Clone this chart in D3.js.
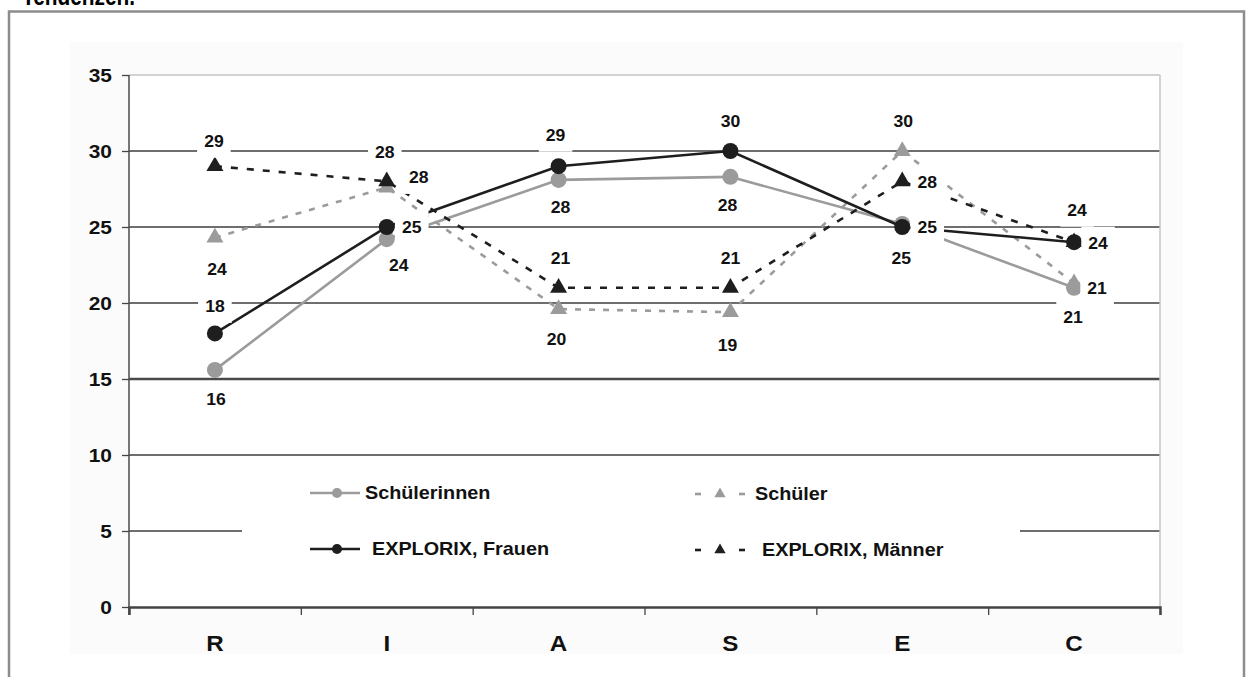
<!DOCTYPE html>
<html>
<head>
<meta charset="utf-8">
<script src="https://cdn.jsdelivr.net/npm/d3@7"></script>
<style>
  html, body { margin: 0; padding: 0; background: #fff; }
  svg { display: block; font-family: "Liberation Sans", Arial, sans-serif; }
</style>
</head>
<body>
<svg id="chart" width="1247" height="677"></svg>
<script>
// RIASEC interest profiles: pupils vs. EXPLORIX norm groups
const categories = ["R", "I", "A", "S", "E", "C"];
const yTicks = [0, 5, 10, 15, 20, 25, 30, 35];

const schuelerinnen   = [15.6, 24.2, 28.1, 28.3, 25.2, 21.0];
const schueler        = [24.3, 27.6, 19.6, 19.4, 30.0, 21.3];
const explorixFrauen  = [18, 25, 29, 30, 25, 24];
const explorixMaenner = [29, 28, 21, 21, 28, 24];

const seriesNames = ["Schülerinnen", "Schüler", "EXPLORIX, Frauen", "EXPLORIX, Männer"];

// label placement (offset of the label centre from its marker)
const labelOffsets = {
  "Schülerinnen":     [[1, 29], [12, 26], [2, 27], [-3, 28], [-1, 34], [-1, 29]],
  "Schüler":          [[2, 32], [-2, -35], [-2, 30], [-3, 33], [1, -30], [23, 5]],
  "EXPLORIX, Frauen": [[0, -27], [25, 0], [-3, -31], [0, -30], [25, 0], [24, 1]],
  "EXPLORIX, Männer": [[-1, -25], [32, -4], [2, -30], [0, -30], [25, 1], [3, -32]]
};

const GREY = "#9b9b9b", BLACK = "#1e1e1e", SX = 1.1;

const series = [
  { name: seriesNames[1], values: schueler,        color: GREY,  dash: "6,8", marker: "triangle" },
  { name: seriesNames[0], values: schuelerinnen,   color: GREY,  dash: null,  marker: "circle" },
  { name: seriesNames[3], values: explorixMaenner, color: BLACK, dash: "7,9", marker: "triangle" },
  { name: seriesNames[2], values: explorixFrauen,  color: BLACK, dash: null,  marker: "circle" }
];

const svg = d3.select("#chart");
const plot = { left: 129, right: 1160, top: 75, bottom: 607 };

// stretched bold text helper
function label(parent, x, y, str, size, anchor, fill) {
  return parent.append("text")
    .attr("transform", `translate(${x},${y}) scale(${SX},1)`)
    .attr("text-anchor", anchor)
    .attr("dy", "0.36em")
    .attr("font-size", size)
    .attr("font-weight", "bold")
    .attr("fill", fill || "#111")
    .text(str);
}

// closing words of the paragraph above the figure
svg.append("text").attr("x", 22).attr("y", 5)
  .attr("font-size", 25).attr("font-weight", "bold").attr("fill", "#000")
  .attr("textLength", 113).attr("lengthAdjust", "spacingAndGlyphs")
  .text("Tendenzen.");

// outer frame and chart area
svg.append("rect").attr("x", 9).attr("y", 11.5).attr("width", 1235).attr("height", 700)
  .attr("fill", "#fff").attr("stroke", "#8c8c8c").attr("stroke-width", 2.5);
svg.append("rect").attr("x", 70).attr("y", 42).attr("width", 1113).attr("height", 612)
  .attr("fill", "#fbfbfb");
svg.append("rect").attr("x", plot.left).attr("y", plot.top)
  .attr("width", plot.right - plot.left).attr("height", plot.bottom - plot.top)
  .attr("fill", "#fff");

const x = d3.scaleBand().domain(categories).range([plot.left, plot.right]);
const y = d3.scaleLinear().domain([0, 35]).range([plot.bottom, plot.top]);
const cx = c => x(c) + x.bandwidth() / 2;

// gridlines
svg.append("g").selectAll("line").data(yTicks.filter(t => t > 0)).join("line")
  .attr("x1", plot.left).attr("x2", plot.right)
  .attr("y1", d => y(d)).attr("y2", d => y(d))
  .attr("stroke", d => d === 35 ? "#c4c4c4" : (d === 15 ? "#4a4a4a" : "#3e3e3e"))
  .attr("stroke-width", d => d === 15 ? 2.4 : 1.4);

// right border of the plot area
svg.append("line").attr("x1", plot.right).attr("x2", plot.right)
  .attr("y1", plot.top).attr("y2", plot.bottom + 8)
  .attr("stroke", "#c4c4c4").attr("stroke-width", 1.5);

// y axis
const yAxis = svg.append("g").attr("transform", `translate(${plot.left},0)`)
  .call(d3.axisLeft(y).tickValues(yTicks).tickSize(7).tickPadding(10));
yAxis.select(".domain").remove();
yAxis.selectAll(".tick line").attr("stroke", "#444").attr("stroke-width", 1.3);
yAxis.selectAll(".tick text").remove();
yAxis.selectAll(".tick").each(function (d) {
  label(d3.select(this), -17, 0, d, 19, "end");
});
svg.append("line").attr("x1", plot.left).attr("x2", plot.left)
  .attr("y1", plot.top).attr("y2", plot.bottom + 8)
  .attr("stroke", "#4a4a4a").attr("stroke-width", 1.5);

// x axis: ticks on category boundaries, labels centred in bands
const bounds = d3.scaleLinear().domain([0, categories.length]).range([plot.left, plot.right]);
const xAxis = svg.append("g").attr("transform", `translate(0,${plot.bottom})`)
  .call(d3.axisBottom(bounds).ticks(categories.length).tickSize(8).tickFormat(""));
xAxis.select(".domain").attr("stroke", "#444").attr("stroke-width", 2.4);
xAxis.selectAll(".tick line").attr("stroke", "#444").attr("stroke-width", 1.3);
categories.forEach(c => label(svg, cx(c), 643, c, 22, "middle"));

// lines and markers
const tri = d3.symbol().type(d3.symbolTriangle).size(125)();
const line = d3.line().x((d, i) => cx(categories[i])).y(d => y(d));

series.forEach(s => {
  const g = svg.append("g");
  g.append("path").attr("d", line(s.values))
    .attr("fill", "none").attr("stroke", s.color).attr("stroke-width", 2.6)
    .attr("stroke-dasharray", s.dash);
  const m = g.selectAll(".m").data(s.values).join("g")
    .attr("transform", (d, i) => `translate(${cx(categories[i])},${y(d)})`);
  if (s.marker === "circle") m.append("circle").attr("r", 8).attr("fill", s.color);
  else m.append("path").attr("d", tri).attr("fill", s.color);
});

// data labels on white boxes
const fmt = d3.format(".0f");
const lblLayer = svg.append("g");
series.forEach(s => {
  s.values.forEach((v, i) => {
    const [dx, dy] = labelOffsets[s.name][i];
    const px = cx(categories[i]) + dx, py = y(v) + dy;
    const g = lblLayer.append("g");
    const box = g.append("rect");
    const t = label(g, px, py, fmt(v), 16, "middle");
    const w = t.node().getComputedTextLength() * SX + 14;
    box.attr("x", px - w / 2).attr("y", py - 16.5).attr("width", w).attr("height", 33)
      .attr("fill", "#fff");
  });
});

// legend
const leg = svg.append("g");
leg.append("rect").attr("x", 242).attr("y", 468).attr("width", 778).attr("height", 110).attr("fill", "#fff");
const smallTri = d3.symbol().type(d3.symbolTriangle).size(55)();
const legendItems = [
  { s: series[1], x: 310, y: 493, tx: 365 },
  { s: series[0], x: 695, y: 494, tx: 755 },
  { s: series[3], x: 310, y: 549, tx: 372 },
  { s: series[2], x: 695, y: 550, tx: 762 }
];
legendItems.forEach(it => {
  const s = it.s;
  if (s.dash) {
    [[695, 701], [739, 745]].forEach(([a, b]) =>
      leg.append("line").attr("x1", a).attr("x2", b).attr("y1", it.y).attr("y2", it.y)
        .attr("stroke", s.color).attr("stroke-width", 2.6));
    leg.append("path").attr("d", smallTri).attr("transform", `translate(720,${it.y})`).attr("fill", s.color);
  } else {
    leg.append("line").attr("x1", 310).attr("x2", 360).attr("y1", it.y).attr("y2", it.y)
      .attr("stroke", s.color).attr("stroke-width", 2.6);
    leg.append("circle").attr("cx", 337).attr("cy", it.y).attr("r", 5).attr("fill", s.color);
  }
  label(leg, it.tx, it.y, s.name, 18, "start");
});
</script>
</body>
</html>
